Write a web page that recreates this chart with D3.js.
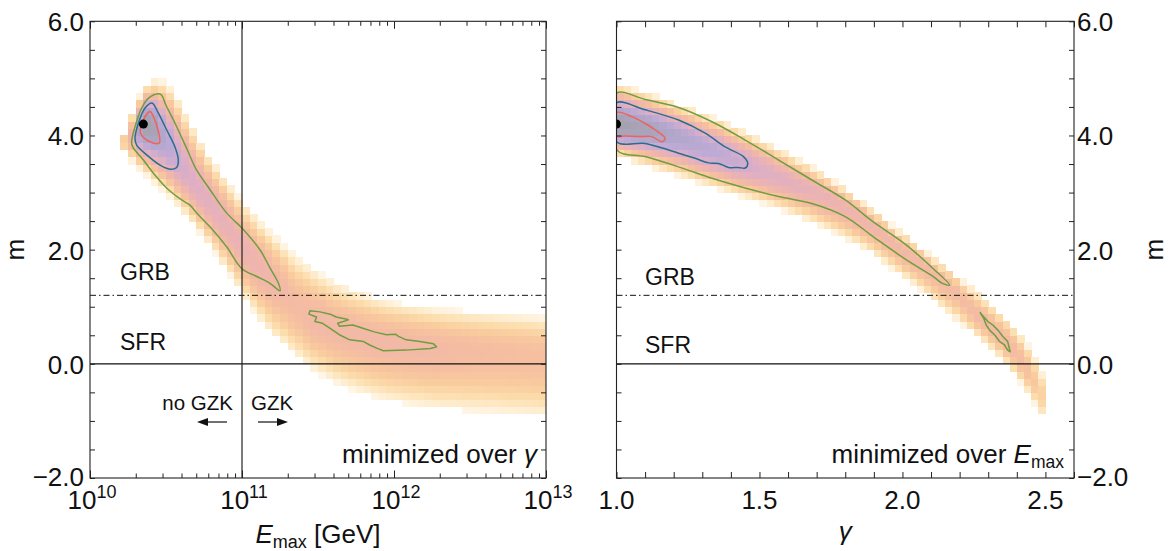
<!DOCTYPE html>
<html><head><meta charset="utf-8">
<script src="https://cdn.jsdelivr.net/npm/d3@7"></script>
<style>
body{margin:0;background:#fff;}
svg{display:block;font-family:'Liberation Sans',Arial,Helvetica,sans-serif;}
</style>
</head><body>
<svg id="chart" width="1168" height="551"></svg>
<script>
// ---------------- DATA ----------------
// Left panel: columns in log10(Emax/GeV); band edges, ridge position and ridge level (Δχ²-like)
const leftCols = [10.20,10.25,10.30,10.35,10.40,10.45,10.50,10.55,10.60,10.65,10.70,10.75,10.80,10.85,10.90,10.95,
  11.00,11.05,11.10,11.15,11.20,11.25,11.30,11.35,11.40,11.45,11.50,11.55,11.60,11.65,11.70,11.75,11.80,11.85,11.90,11.95,
  12.00,12.05,12.10,12.15,12.20,12.25,12.30,12.35,12.40,12.45,12.50,12.55,12.60,12.65,12.70,12.75,12.80,12.85,12.90,12.95];
const leftTop = [4.05,4.40,4.70,4.90,4.97,4.95,4.85,4.65,4.40,4.15,3.90,3.68,3.48,3.30,3.12,2.95,
  2.78,2.63,2.48,2.34,2.21,2.08,1.96,1.85,1.75,1.65,1.57,1.49,1.42,1.36,1.31,1.26,1.21,1.17,1.13,1.10,
  1.07,1.05,1.03,1.01,0.99,0.97,0.96,0.95,0.94,0.93,0.92,0.91,0.90,0.89,0.88,0.87,0.86,0.85,0.84,0.83];
const leftBottom = [3.70,3.55,3.42,3.30,3.17,3.05,2.92,2.77,2.62,2.46,2.30,2.12,1.93,1.74,1.55,1.35,
  1.12,0.92,0.74,0.58,0.44,0.32,0.20,0.09,-0.02,-0.11,-0.19,-0.26,-0.33,-0.39,-0.44,-0.49,-0.54,-0.58,-0.62,-0.65,
  -0.68,-0.70,-0.72,-0.74,-0.76,-0.78,-0.79,-0.80,-0.81,-0.82,-0.83,-0.84,-0.85,-0.86,-0.87,-0.88,-0.89,-0.90,-0.91,-0.92];
const leftRidge = [3.90,4.00,4.12,4.20,4.15,4.00,3.82,3.62,3.42,3.22,3.04,2.87,2.70,2.52,2.35,2.17,
  1.99,1.86,1.72,1.58,1.45,1.30,1.12,0.99,0.89,0.80,0.73,0.67,0.62,0.58,0.54,0.50,0.47,0.44,0.42,0.40,
  0.38,0.36,0.34,0.32,0.30,0.28,0.27,0.26,0.25,0.24,0.23,0.22,0.21,0.20,0.19,0.18,0.17,0.16,0.15,0.14];
const leftLevel = [16,10,2.5,0,0.8,2.8,4.2,5.5,6.6,7.2,7.6,8.0,8.3,8.6,8.9,9.2,
  9.5,9.8,10.1,10.5,11.0,11.6,12.1,12.3,11.9,11.5,11.4,11.4,11.4,11.4,11.4,11.4,11.4,11.4,11.4,11.4,
  11.4,11.4,11.5,11.5,11.6,11.7,12.0,12.2,12.4,12.5,12.6,12.7,12.8,12.9,13.0,13.0,13.1,13.1,13.2,13.2];

// Right panel: columns in gamma
const rightCols = [1.000,1.025,1.050,1.075,1.100,1.125,1.150,1.175,1.200,1.225,1.250,1.275,1.300,1.325,1.350,1.375,
  1.400,1.425,1.450,1.475,1.500,1.525,1.550,1.575,1.600,1.625,1.650,1.675,1.700,1.725,1.750,1.775,1.800,1.825,1.850,1.875,
  1.900,1.925,1.950,1.975,2.000,2.025,2.050,2.075,2.100,2.125,2.150,2.175,2.200,2.225,2.250,2.275,2.300,2.325,2.350,2.375,
  2.400,2.425,2.450,2.475];
const rightTop = [4.90,4.87,4.83,4.79,4.75,4.71,4.66,4.61,4.56,4.52,4.48,4.43,4.38,4.33,4.28,4.22,
  4.16,4.10,4.04,3.98,3.92,3.86,3.79,3.73,3.66,3.59,3.52,3.45,3.37,3.29,3.20,3.11,3.02,2.93,2.84,2.74,
  2.64,2.54,2.44,2.34,2.25,2.15,2.05,1.95,1.85,1.75,1.65,1.55,1.45,1.35,1.25,1.14,1.03,0.92,0.80,0.66,
  0.50,0.32,0.10,-0.15];
const rightBottom = [3.62,3.58,3.54,3.50,3.46,3.42,3.38,3.34,3.30,3.26,3.22,3.17,3.13,3.09,3.05,3.01,
  2.97,2.93,2.89,2.85,2.81,2.77,2.72,2.68,2.63,2.58,2.53,2.48,2.42,2.36,2.30,2.24,2.17,2.10,2.02,1.94,
  1.86,1.77,1.68,1.59,1.50,1.40,1.30,1.20,1.09,0.98,0.88,0.78,0.68,0.58,0.48,0.37,0.25,0.12,-0.02,-0.16,
  -0.32,-0.50,-0.70,-0.92];
const rightRidge = [4.20,4.18,4.16,4.14,4.12,4.09,4.06,4.03,3.99,3.95,3.90,3.85,3.80,3.75,3.70,3.64,
  3.58,3.54,3.49,3.44,3.39,3.34,3.29,3.24,3.19,3.14,3.09,3.03,2.98,2.92,2.86,2.80,2.73,2.65,2.56,2.46,
  2.36,2.26,2.16,2.06,1.96,1.87,1.78,1.69,1.60,1.50,1.40,1.28,1.12,0.98,0.86,0.76,0.64,0.52,0.39,0.25,
  0.09,-0.09,-0.30,-0.53];
const rightLevel = [0,0.3,0.6,0.9,1.2,1.6,2.0,2.5,2.9,3.2,3.5,3.8,4.1,4.4,4.7,5.0,
  5.4,5.8,6.3,6.8,7.2,7.5,7.8,8.0,8.2,8.4,8.6,8.8,9.0,9.2,9.4,9.6,9.8,10.0,10.2,10.4,
  10.6,10.8,11.0,11.1,11.2,11.3,11.4,11.5,11.6,11.7,11.8,12.1,12.3,12.2,12.0,11.7,11.6,11.6,11.7,12.0,
  12.6,13.5,15.0,17.0];

// Contours (x, m): left panel x = log10(Emax), right panel x = gamma
const leftGreen = [[10.449,4.73],[10.384,4.65],[10.340,4.48],[10.296,4.15],[10.274,3.89],[10.281,3.80],[10.351,3.57],
  [10.417,3.34],[10.504,3.08],[10.603,2.87],[10.658,2.78],[10.702,2.64],[10.789,2.40],[10.899,2.05],[10.998,1.67],
  [11.097,1.53],[11.184,1.41],[11.25,1.28],[11.24,1.41],[11.18,1.70],[11.12,1.99],[11.01,2.35],[10.90,2.64],
  [10.79,3.05],[10.70,3.40],[10.64,3.75],[10.56,4.21],[10.50,4.53],[10.47,4.71]];
const leftGreenIsland = [[11.447,0.93],[11.513,0.91],[11.58,0.87],[11.62,0.82],[11.69,0.78],[11.70,0.77],[11.63,0.71],
  [11.64,0.66],[11.73,0.68],[11.80,0.62],[11.87,0.56],[11.95,0.51],[12.01,0.52],[12.03,0.48],[12.08,0.42],[12.17,0.39],
  [12.26,0.35],[12.28,0.30],[12.24,0.27],[12.08,0.24],[11.93,0.23],[11.89,0.27],[11.84,0.33],[11.80,0.39],[11.71,0.42],
  [11.64,0.51],[11.58,0.62],[11.53,0.71],[11.48,0.74],[11.49,0.82],[11.44,0.87]];
const leftBlue = [[10.406,4.57],[10.362,4.48],[10.318,4.21],[10.296,3.95],[10.307,3.83],[10.373,3.66],[10.461,3.48],
  [10.526,3.41],[10.57,3.44],[10.581,3.57],[10.559,3.80],[10.504,4.10],[10.45,4.39],[10.417,4.55]];
const leftRed = [[10.395,4.42],[10.351,4.27],[10.333,4.04],[10.395,3.89],[10.456,3.87],[10.45,4.07],[10.417,4.33]];

const rightGreen = [[1.0,4.74],[1.10,4.63],[1.217,4.49],[1.334,4.24],[1.45,3.92],[1.567,3.57],[1.683,3.22],[1.80,2.87],
  [1.897,2.49],[2.014,2.08],[2.107,1.67],[2.165,1.38],[2.14,1.41],[2.107,1.53],[2.014,1.82],[1.897,2.23],[1.80,2.58],
  [1.683,2.81],[1.567,2.93],[1.45,3.08],[1.334,3.25],[1.217,3.45],[1.10,3.63],[1.0,3.75]];
const rightGreenIsland = [[2.272,0.90],[2.281,0.84],[2.299,0.74],[2.316,0.68],[2.334,0.59],[2.351,0.48],[2.368,0.39],
  [2.377,0.21],[2.368,0.24],[2.357,0.33],[2.34,0.39],[2.322,0.51],[2.305,0.59],[2.293,0.68],[2.284,0.80],[2.276,0.86]];
const rightBlue = [[1.0,4.57],[1.10,4.45],[1.217,4.27],[1.31,4.04],[1.38,3.80],[1.444,3.63],[1.459,3.51],[1.45,3.43],
  [1.427,3.44],[1.392,3.44],[1.357,3.51],[1.322,3.52],[1.275,3.60],[1.217,3.69],[1.16,3.78],[1.10,3.86],[1.0,3.89]];
const rightRed = [[1.0,4.40],[1.054,4.33],[1.10,4.21],[1.135,4.10],[1.17,3.95],[1.159,3.89],[1.124,3.98],[1.078,3.98],
  [1.03,3.99],[1.0,3.99]];

const bestFitLeft = [10.351, 4.20];
const bestFitRight = [1.0, 4.20];
const grbLine = 1.2;
const gzkE = 1e11;

const yTickLabels = [-2, 0, 2, 4, 6];
const gammaTickLabels = [1.0, 1.5, 2.0, 2.5];
const decadeLabels = [10, 11, 12, 13];

// colour levels (Δχ²-like) and colours
const levelStops = [0, 2.3, 4.5, 7, 10, 13, 16, 19, 22, 25];
const levelColors = ['#a4a2ab','#aea5c6','#bcaad6','#dcaec8','#efb4ad','#f5bea0','#f9cc9e','#fcdcab','#feeac7','#fff6e7'];

// ---------------- CHART ----------------
(function () {
const svg = d3.select('#chart');
const W = 1168, H = 551;
svg.append('rect').attr('width', W).attr('height', H).attr('fill', '#fff');

const yTop = 21.3, yBot = 478;
const L = {x0: 90, x1: 546};
const R = {x0: 616.5, x1: 1074};
const y = d3.scaleLinear().domain([-2, 6]).range([yBot, yTop]);
const xL = d3.scaleLog().domain([1e10, 1e13]).range([L.x0, L.x1]);
const xR = d3.scaleLinear().domain([1.0, 2.6]).range([R.x0, R.x1]);
const color = d3.scaleLinear().domain(levelStops).range(levelColors).interpolate(d3.interpolateRgb);
const EDGE = 25;
const mStep = 0.125;
const mGrid = d3.range(-2, 6, mStep);

const defs = svg.append('defs');
defs.append('clipPath').attr('id', 'clipL').append('rect')
  .attr('x', L.x0).attr('y', yTop).attr('width', L.x1 - L.x0).attr('height', yBot - yTop);
defs.append('clipPath').attr('id', 'clipR').append('rect')
  .attr('x', R.x0).attr('y', yTop).attr('width', R.x1 - R.x0).attr('height', yBot - yTop);

function drawBand(g, cols, colW, tops, bots, ridge, level, xpos) {
  cols.forEach((c, i) => {
    const xa = xpos(c), xb = xpos(c + colW);
    mGrid.forEach(m => {
      const mc = m + mStep / 2;
      const r = ridge[i];
      const t = mc >= r ? (mc - r) / (tops[i] - r) : (r - mc) / (r - bots[i]);
      const v = level[i] + (EDGE - level[i]) * t * t;
      if (v <= EDGE) {
        g.append('rect')
          .attr('x', xa).attr('y', y(m + mStep))
          .attr('width', xb - xa + 0.6).attr('height', y(m) - y(m + mStep) + 0.6)
          .attr('fill', color(v));
      }
    });
  });
}

const gL = svg.append('g').attr('clip-path', 'url(#clipL)');
const gR = svg.append('g').attr('clip-path', 'url(#clipR)');
drawBand(gL.append('g').attr('shape-rendering','crispEdges'), leftCols, 0.05, leftTop, leftBottom, leftRidge, leftLevel, v => xL(Math.pow(10, v)));
drawBand(gR.append('g').attr('shape-rendering','crispEdges'), rightCols, 0.025, rightTop, rightBottom, rightRidge, rightLevel, v => xR(v));

// contours
const lineL = d3.line().x(d => xL(Math.pow(10, d[0]))).y(d => y(d[1]));
const lineR = d3.line().x(d => xR(d[0])).y(d => y(d[1]));
function contour(g, data, gen, col, smooth) {
  g.append('path').attr('d', gen.curve(smooth ? d3.curveCatmullRomClosed.alpha(0.5) : d3.curveLinearClosed)(data))
    .attr('fill', 'none').attr('stroke', col).attr('stroke-width', 1.5).attr('stroke-linejoin', 'round');
}
const cGreen = '#6f9e3e', cBlue = '#2b6d8e', cRed = '#f0625c';
contour(gL, leftGreen, lineL, cGreen, true);
contour(gL, leftGreenIsland, lineL, cGreen, false);
contour(gL, leftBlue, lineL, cBlue, true);
contour(gL, leftRed, lineL, cRed, true);
contour(gR, rightGreen, lineR, cGreen, true);
contour(gR, rightGreenIsland, lineR, cGreen, false);
contour(gR, rightBlue, lineR, cBlue, true);
contour(gR, rightRed, lineR, cRed, true);

// reference lines
[[gL, L], [gR, R]].forEach(([g, P]) => {
  g.append('line').attr('x1', P.x0).attr('x2', P.x1).attr('y1', y(0)).attr('y2', y(0))
    .attr('stroke', '#111').attr('stroke-width', 1.3);
  g.append('line').attr('x1', P.x0).attr('x2', P.x1).attr('y1', y(grbLine)).attr('y2', y(grbLine))
    .attr('stroke', '#111').attr('stroke-width', 1).attr('stroke-dasharray', '6,3,1.5,3');
});
gL.append('line').attr('x1', xL(gzkE)).attr('x2', xL(gzkE)).attr('y1', yTop).attr('y2', yBot)
  .attr('stroke', '#222').attr('stroke-width', 1.2);

// best fit points
gL.append('circle').attr('cx', xL(Math.pow(10, bestFitLeft[0]))).attr('cy', y(bestFitLeft[1])).attr('r', 4.5).attr('fill', '#000');
gR.append('circle').attr('cx', xR(bestFitRight[0])).attr('cy', y(bestFitRight[1])).attr('r', 4.5).attr('fill', '#000');

// frames
[L, R].forEach(P => {
  svg.append('rect').attr('x', P.x0).attr('y', yTop).attr('width', P.x1 - P.x0).attr('height', yBot - yTop)
    .attr('fill', 'none').attr('stroke', '#222').attr('stroke-width', 1.1);
});

// ticks via d3 axes (inward)
function ticks(axisGen, tx, ty) {
  const g = svg.append('g').attr('transform', `translate(${tx},${ty})`).call(axisGen);
  g.select('.domain').remove();
  g.selectAll('.tick line').attr('stroke', '#222').attr('stroke-width', 1);
  g.selectAll('.tick text').remove();
  return g;
}
const mTicks = d3.range(-2, 6.001, 0.5);
const logMinor = [];
[1e10, 1e11, 1e12].forEach(d => { for (let k = 2; k <= 9; k++) logMinor.push(k * d); });
const logMajor = [1e10, 1e11, 1e12, 1e13];
ticks(d3.axisLeft(y).tickValues(mTicks).tickSize(-5), L.x0, 0);
ticks(d3.axisRight(y).tickValues(mTicks).tickSize(-5), L.x1, 0);
ticks(d3.axisBottom(xL).tickValues(logMinor).tickSize(-4.5), 0, yBot);
ticks(d3.axisBottom(xL).tickValues(logMajor).tickSize(-7.5), 0, yBot);
ticks(d3.axisTop(xL).tickValues(logMinor).tickSize(-4.5), 0, yTop);
ticks(d3.axisTop(xL).tickValues(logMajor).tickSize(-7.5), 0, yTop);
const gTicks = d3.range(10, 26.001, 1).map(v => v / 10);
ticks(d3.axisLeft(y).tickValues(mTicks).tickSize(-5), R.x0, 0);
ticks(d3.axisRight(y).tickValues(mTicks).tickSize(-5), R.x1, 0);
ticks(d3.axisBottom(xR).tickValues(gTicks).tickSize(-6), 0, yBot);
ticks(d3.axisTop(xR).tickValues(gTicks).tickSize(-6), 0, yTop);

// tick labels
const fmt = v => (v < 0 ? '\u2212' : '') + Math.abs(v).toFixed(1);
const tickFont = 26;
yTickLabels.forEach(v => {
  const dy = v === -2 ? 8 : 10;
  svg.append('text').attr('x', 84).attr('y', y(v) + dy).attr('text-anchor', 'end')
    .attr('font-size', tickFont).attr('fill', '#111').text(fmt(v));
  svg.append('text').attr('x', 1077).attr('y', y(v) + dy).attr('text-anchor', 'start')
    .attr('font-size', tickFont).attr('fill', '#111').text(fmt(v));
});
gammaTickLabels.forEach(v => {
  svg.append('text').attr('x', xR(v)).attr('y', 509).attr('text-anchor', 'middle')
    .attr('font-size', tickFont).attr('fill', '#111').text(v.toFixed(1));
});
decadeLabels.forEach(p => {
  const t = svg.append('text').attr('x', xL(Math.pow(10, p)) + 2).attr('y', 509).attr('text-anchor', 'middle')
    .attr('font-size', tickFont).attr('fill', '#111');
  t.append('tspan').text('10');
  t.append('tspan').attr('font-size', 18).attr('dy', -11).text(String(p));
});

// axis titles
const tE = svg.append('text').attr('x', (L.x0 + L.x1) / 2).attr('y', 543).attr('text-anchor', 'middle')
  .attr('font-size', 26).attr('fill', '#111');
tE.append('tspan').attr('font-style', 'italic').text('E');
tE.append('tspan').attr('font-size', 18).attr('dy', 5).text('max');
tE.append('tspan').attr('dy', -5).text(' [GeV]');
svg.append('text').attr('x', (R.x0 + R.x1) / 2).attr('y', 540).attr('text-anchor', 'middle')
  .attr('font-size', 26).attr('font-style', 'italic').attr('fill', '#111').text('γ');
svg.append('text').attr('transform', `translate(24,${(yTop + yBot) / 2}) rotate(-90)`).attr('text-anchor', 'middle')
  .attr('font-size', 26).attr('fill', '#111').text('m');
svg.append('text').attr('transform', `translate(1163,${(yTop + yBot) / 2}) rotate(-90)`).attr('text-anchor', 'middle')
  .attr('font-size', 26).attr('fill', '#111').text('m');

// annotations
function label(x, yy, txt, size, anchor) {
  return svg.append('text').attr('x', x).attr('y', yy).attr('text-anchor', anchor || 'start')
    .attr('font-size', size).attr('fill', '#111').text(txt);
}
label(120, 280, 'GRB', 23);
label(120, 350, 'SFR', 23);
label(645, 285, 'GRB', 23);
label(645, 353, 'SFR', 23);
label(233, 410, 'no GZK', 20.5, 'end');
label(251, 410, 'GZK', 20.5);

const m1 = svg.append('text').attr('x', 537).attr('y', 463).attr('text-anchor', 'end').attr('font-size', 26).attr('fill', '#111');
m1.append('tspan').text('minimized over ');
m1.append('tspan').attr('font-style', 'italic').text('γ');
const m2 = svg.append('text').attr('x', 1064).attr('y', 463).attr('text-anchor', 'end').attr('font-size', 26).attr('fill', '#111');
m2.append('tspan').text('minimized over ');
m2.append('tspan').attr('font-style', 'italic').text('E');
m2.append('tspan').attr('font-size', 17.5).attr('dy', 5).text('max');

function arrow(x1, x2, yy) {
  const dir = Math.sign(x2 - x1);
  svg.append('line').attr('x1', x1).attr('x2', x2 - dir * 9).attr('y1', yy).attr('y2', yy)
    .attr('stroke', '#111').attr('stroke-width', 1.2);
  svg.append('path').attr('d', `M${x2},${yy} L${x2 - dir * 11},${yy - 4} L${x2 - dir * 11},${yy + 4} Z`).attr('fill', '#111');
}
arrow(227, 197, 422);
arrow(258, 288, 422);
})();
</script>
</body></html>
